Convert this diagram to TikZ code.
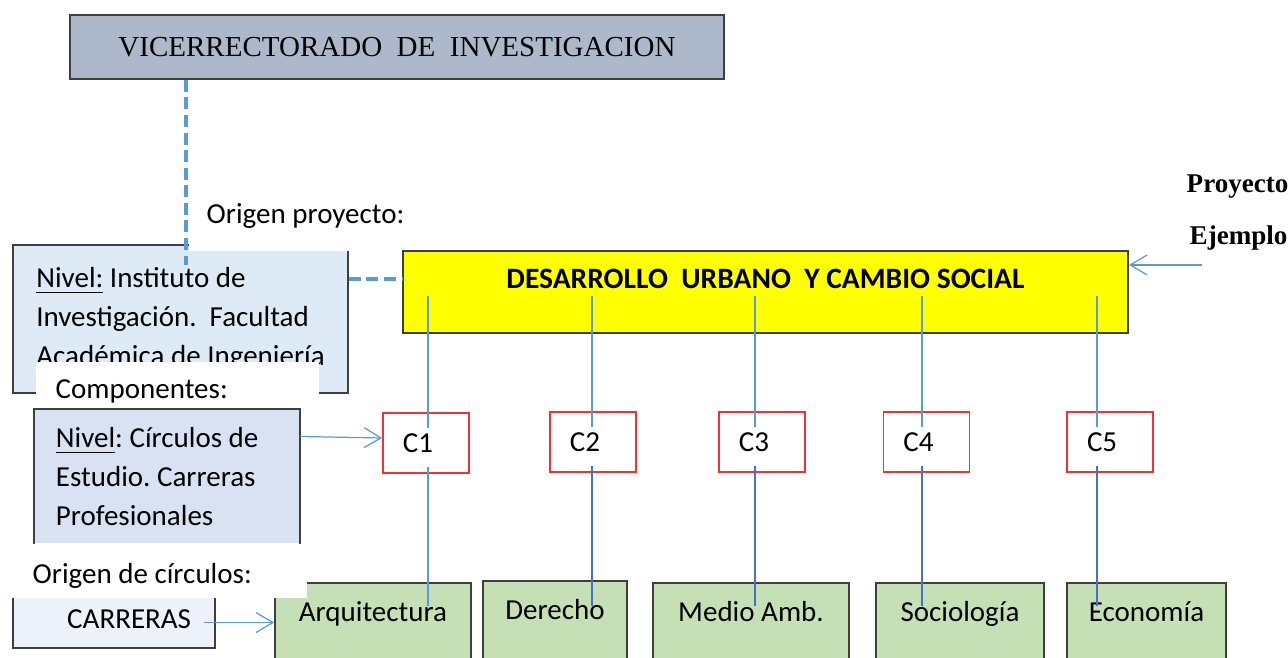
\documentclass[tikz,border=0pt]{standalone}
\usepackage{fontspec}
\setmainfont{Carlito}
\newfontfamily\timesfont{Liberation Serif}
\usetikzlibrary{arrows.meta}
\usetikzlibrary{positioning}
\definecolor{vgray}{HTML}{ADB9CA}
\definecolor{nblueA}{HTML}{DEEAF6}
\definecolor{nblueB}{HTML}{D9E2F3}
\definecolor{cblue}{HTML}{EDF2FA}
\definecolor{pyellow}{HTML}{FFFF00}
\definecolor{cgreen}{HTML}{C5E0B4}
\definecolor{lblue}{HTML}{5B9BD5}
\definecolor{dblue}{HTML}{4472C4}
\definecolor{cred}{RGB}{240,50,50}
\definecolor{bline}{HTML}{3F3F3F}
\newcommand\diafont{\frenchspacing\fontsize{8.25}{11.1}\selectfont}
\tikzset{
    box/.style = {draw = bline, line width = 0.45pt, inner sep = 0, font = \diafont},
    lbl/.style = {fill = white, anchor = base west, inner ysep = 0, font = \diafont},
    cbox/.style = {draw = cred, fill = white, line width = 0.45pt, minimum height = 0.6cm,
        inner xsep = 0.2cm, text width = 0.46cm, align = flush left, font = \diafont},
    gbox/.style = {box, fill = cgreen, anchor = north, text height = 0.39cm, text depth = 0.5cm},
    link/.style = {draw = lblue, line width = 0.35pt},
    linkd/.style = {draw = dblue, line width = 0.6pt},
    dashlink/.style = {draw = lblue, line width = 1pt, dash pattern = on 3.4pt off 1.6pt},
    arr/.style = {draw = lblue, line width = 0.35pt, -{Straight Barb[length = 0.17cm, width = 0.2cm]}}
}

\begin{document}
\begin{tikzpicture}[x = 0.01cm, y = -0.01cm]
    \useasboundingbox (0, 0) rectangle (1288, 658);

    \node [box, fill = vgray, minimum width = 6.54cm, minimum height = 0.64cm, font = \timesfont\diafont]
        (vice) at (397, 47) {VICERRECTORADO~ DE~ INVESTIGACION};

    \node [box, fill = nblueA, minimum width = 3.35cm, minimum height = 1.48cm, align = left]
        (nivelA) at (180.5, 319) {\underline{Nivel:} Instituto de\\Investigación.~ Facultad\\Académica de Ingeniería};
    \node [lbl, inner xsep = 0.18cm, text height = 0.32cm, text depth = 0.27cm]
        (oproy) at (188, 224) {Origen proyecto:};
    \node [lbl, inner xsep = 0.2cm, text width = 2.43cm, align = flush left, text height = 0.37cm, text depth = 0.09cm]
        (compo) at (35, 399) {Componentes:};

    % caja cortada abajo
    \node [fill = nblueB, inner xsep = 0.21cm, inner ysep = 0, minimum height = 1.33cm,
        text width = 2.22cm, align = flush left, font = \diafont]
        (nivelB) at (167, 476.5) {\underline{Nivel}: Círculos de\\Estudio. Carreras\\Profesionales};
    \draw [bline, line width = 0.45pt] (nivelB.south west) -- (nivelB.north west) -- (nivelB.north east) -- (nivelB.south east);

    \node [box, fill = pyellow, minimum width = 7.25cm, minimum height = 0.82cm, text height = 0.2cm, text depth = 0.26cm,
        font = \frenchspacing\fontsize{8.4}{11.1}\selectfont]
        (proj) at (765.5, 292) {\bfseries DESARROLLO~ URBANO~ Y CAMBIO SOCIAL};

    \node [cbox] (c1) at (426, 443) {C1};
    \node [cbox] (c2) at (593, 442) {C2};
    \node [cbox] (c3) at (762, 442) {C3};
    \node [cbox] (c4) at (926.5, 442) {C4};
    \node [cbox] (c5) at (1110, 442) {C5};

    \node [gbox, minimum width = 1.96cm] (g1) at (373, 582) {Arquitectura};
    \node [gbox, minimum width = 1.44cm] (g2) at (555, 580) {Derecho};
    \node [gbox, minimum width = 1.96cm] (g3) at (751, 582) {Medio Amb.};
    \node [gbox, minimum width = 1.68cm] (g4) at (960, 582) {Sociología};
    \node [gbox, minimum width = 1.59cm] (g5) at (1146.5, 582) {Economía};

    \node [box, fill = cblue, inner xsep = 0.24cm, text width = 1.54cm, align = flush right, minimum height = 0.51cm,
        text height = 0.19cm, text depth = 0.08cm]
        (car) at (114, 622.5) {CARRERAS};
    \node [lbl, inner xsep = 0.22cm, text width = 2.52cm, align = flush left, text height = 0.35cm, text depth = 0.15cm]
        (ocirc) at (10, 583) {Origen de círculos:};

    \node [anchor = base west, inner sep = 0, font = \timesfont\fontsize{7.7}{9}\selectfont\bfseries]
        (proy) at (1186, 193) {Proyecto};
    \node [anchor = base west, inner sep = 0, font = \timesfont\fontsize{7.7}{9}\selectfont\bfseries]
        (ejem) at (1189, 245) {Ejemplo};

    \coordinate (dv) at (186, 265);
    \draw [dashlink] (vice.south -| dv) -- (dv);
    \coordinate (dh) at ([yshift = 0.13cm]proj.west);
    \draw [dashlink] (nivelA.east |- dh) -- (dh);

    \coordinate (ej) at (1202, 265);
    \draw [arr] (ej) -- (proj.east |- ej);
    \draw [arr] ([yshift = 0.4cm]nivelB.east) -- ([yshift = 0.05cm]c1.west);
    \draw [arr] ([xshift = -0.12cm]car.east) -- (g1.west |- car.east);

    \coordinate (ptop) at ([yshift = 0.38cm]proj.south);
    \coordinate (gbot) at ([yshift = -0.24cm]g1.north);
    \foreach \i/\dx/\st in {1/0.02/link, 2/-0.01/linkd, 3/-0.07/linkd, 4/-0.045/linkd, 5/-0.13/linkd} {
        \coordinate (t\i) at ([xshift = \dx cm, yshift = -0.16cm]c\i.north);
        \coordinate (b\i) at ([xshift = \dx cm, yshift = 0.07cm]c\i.south);
        \draw [link] (t\i |- ptop) -- (t\i);
        \draw [\st] (b\i) -- (b\i |- gbot);
    }
\end{tikzpicture}
\end{document}
